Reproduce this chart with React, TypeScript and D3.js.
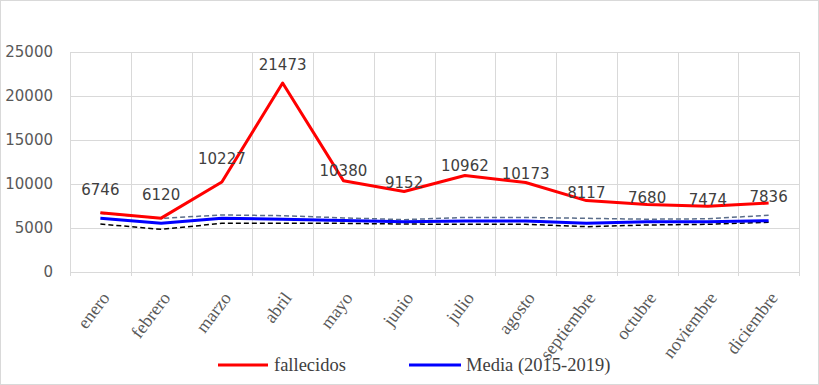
import React from "react";
import * as d3 from "d3";

const months = [
  "enero", "febrero", "marzo", "abril", "mayo", "junio",
  "julio", "agosto", "septiembre", "octubre", "noviembre", "diciembre",
];
const fallecidos = [6746, 6120, 10227, 21473, 10380, 9152, 10962, 10173, 8117, 7680, 7474, 7836];
const media = [6100, 5530, 6100, 6000, 5850, 5700, 5800, 5800, 5530, 5720, 5720, 5830];
const upperBand = [6670, 6100, 6480, 6400, 6150, 5950, 6200, 6200, 6100, 6000, 6050, 6450];
const lowerBand = [5450, 4850, 5530, 5550, 5530, 5450, 5420, 5420, 5150, 5340, 5420, 5650];
const yTicks = [0, 5000, 10000, 15000, 20000, 25000];
// vertical lift of each data label above its point (px)
const labelLift = [23, 23, 23, 18, 10, 8, 9.5, 8.5, 7.5, 6.5, 6.5, 6.5];

const W = 819;
const H = 385;
const left = 70;
const right = 799;
const top = 52;
const bottom = 272;

export default function App() {
  const x = d3.scaleBand<string>().domain(months).range([left, right]);
  const y = d3.scaleLinear().domain([0, 25000]).range([bottom, top]);
  const cx = (i: number) => (x(months[i]) as number) + x.bandwidth() / 2;

  const line = d3
    .line<number>()
    .x((_, i) => cx(i))
    .y((d) => y(d));

  const bounds = months.map((m) => x(m) as number).concat([right]);

  return (
    <svg
      width={W}
      height={H}
      style={{ position: "absolute", left: 0, top: 0, background: "#fff" }}
    >
      <rect x={0.5} y={0.5} width={W - 1} height={H - 1} fill="#fff" stroke="#d9d9d9" />
      <g className="grid" stroke="#d9d9d9" strokeWidth={1}>
        {yTicks.map((t) => (
          <line key={t} x1={left} x2={right} y1={Math.round(y(t)) + 0.5} y2={Math.round(y(t)) + 0.5} />
        ))}
        {bounds.map((b, i) => (
          <line key={i} x1={Math.round(b) + 0.5} x2={Math.round(b) + 0.5} y1={top} y2={bottom + 4} />
        ))}
      </g>
      <g fontFamily="DejaVu Sans, Verdana, sans-serif" fontSize={15} fill="#595959" textAnchor="end">
        {yTicks.map((t) => (
          <text key={t} x={53} y={y(t)} dominantBaseline="central">
            {t}
          </text>
        ))}
      </g>
      <g fontFamily="Liberation Serif, serif" fontSize={18} fill="#595959" textAnchor="end">
        {months.map((m, i) => (
          <text key={m} transform={`translate(${cx(i) + 10},${bottom + 26}) rotate(-53)`}>
            {m}
          </text>
        ))}
      </g>
      <path d={line(upperBand) as string} fill="none" stroke="#5a6d8a" strokeWidth={1.5} strokeDasharray="5,3" />
      <path d={line(lowerBand) as string} fill="none" stroke="#000" strokeWidth={1.5} strokeDasharray="5,3" />
      <path d={line(media) as string} fill="none" stroke="#0000ff" strokeWidth={3} strokeLinejoin="round" />
      <path d={line(fallecidos) as string} fill="none" stroke="#ff0000" strokeWidth={3} strokeLinejoin="round" />
      <g fontFamily="DejaVu Sans, Verdana, sans-serif" fontSize={15} fill="#404040" textAnchor="middle">
        {fallecidos.map((v, i) => (
          <text key={i} x={cx(i)} y={y(v) - labelLift[i]} dominantBaseline="central">
            {v}
          </text>
        ))}
      </g>
      <g fontFamily="Liberation Serif, serif" fontSize={18.5} fill="#404040">
        <line x1={218} x2={268} y1={365} y2={365} stroke="#ff0000" strokeWidth={3} />
        <text x={274} y={370.5}>fallecidos</text>
        <line x1={409} x2={461} y1={365} y2={365} stroke="#0000ff" strokeWidth={3} />
        <text x={466} y={370.5}>Media (2015-2019)</text>
      </g>
    </svg>
  );
}
